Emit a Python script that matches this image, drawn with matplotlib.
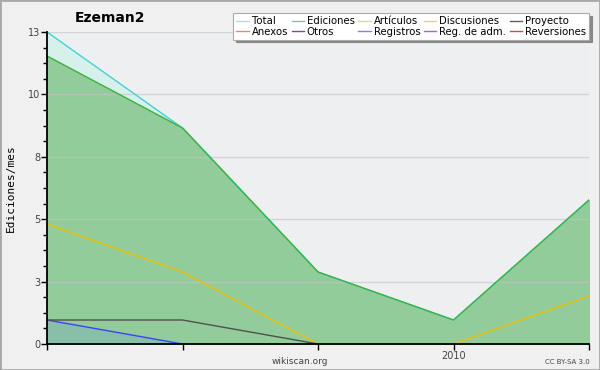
import numpy as np
import matplotlib.pyplot as plt
from matplotlib.lines import Line2D
from matplotlib.patches import Rectangle

# Dades (edicions per mes)
mesos = ['2009-10', '2009-11', '2009-12', '2010-01', '2010-02']
total = [13, 9, 3, 1, 6]
edicions = [12, 9, 3, 1, 6]
discusions = [5, 3, 0, 0, 2]
projecte = [1, 1, 0, np.nan, np.nan]
registres = [1, 0, np.nan, np.nan, np.nan]

etiquetes_y = ['0', '3', '5', '8', '10', '13']
posicions_y = [0, 2.6, 5.2, 7.8, 10.4, 13]

llegenda = [('Total', '#a8e4e0'), ('Anexos', '#f08a50'),
            ('Ediciones', '#80c890'), ('Otros', '#8040d0'),
            ('Artículos', '#c8ec70'), ('Registros', '#8080f0'),
            ('Discusiones', '#f4d060'), ('Reg. de adm.', '#c850e0'),
            ('Proyecto', '#606060'), ('Reversiones', '#e84040')]

fig = plt.figure(figsize=(6, 3.7), dpi=100, facecolor='#f0f0f0')
fig.patches.append(Rectangle((0, 0), 1, 1, transform=fig.transFigure,
                             fill=False, edgecolor='#a8a8a8', linewidth=2))
ax = fig.add_axes([47/600, 26/370, 542/600, 312/370])
ax.set_facecolor('#eeeff1')

x = np.arange(len(mesos))

# Àrees
ax.fill_between(x, 0, total, color='#d6f1ec', zorder=1)
ax.plot(x, total, color='#40d4d4', linewidth=1, zorder=4)
ax.fill_between(x, 0, edicions, color='#92cc9a', zorder=2)
ax.plot(x, edicions, color='#3cb43c', linewidth=1, zorder=5)
ax.fill_between(x[:2], 0, registres[:2], color='#88bfa8', zorder=3)
ax.plot(x, registres, color='#4040ff', linewidth=1, zorder=6)
ax.plot(x, discusions, color='#f0c000', linewidth=1, zorder=6)
ax.plot(x, projecte, color='#505050', linewidth=1, zorder=6)

ax.set_xlim(0, len(mesos) - 1)
ax.set_ylim(0, 13)

ax.set_yticks(posicions_y)
ax.set_yticklabels(etiquetes_y)
ax.set_yticks(np.arange(0, 13.01, 0.65), minor=True)
ax.set_xticks(x)
ax.set_xticklabels([m[:4] if m.endswith('-01') else '' for m in mesos])
ax.tick_params(axis='both', which='major', labelsize=7, labelcolor='#444444',
               length=4, width=1, pad=1)
ax.tick_params(axis='y', which='minor', length=3, width=1)
ax.grid(axis='y', color='#c4c4c4', alpha=0.6, linewidth=1, zorder=3.5)
ax.set_axisbelow(False)

for s in ['top', 'right']:
    ax.spines[s].set_visible(False)
for s in ['left', 'bottom']:
    ax.spines[s].set_linewidth(1.3)
    ax.spines[s].set_zorder(10)

fig.text(11/600, 1 - 188/370, 'Ediciones/mes', fontsize=8, family='DejaVu Sans Mono',
         rotation=90, ha='center', va='center')
fig.text(110/600, 1 - 18/370, 'Ezeman2', fontsize=10, fontweight='bold',
         ha='center', va='center')
fig.text(300/600, 1 - 361/370, 'wikiscan.org', fontsize=6.5, color='#444444',
         ha='center', va='center')
fig.text(590/600, 1 - 362/370, 'CC BY-SA 3.0', fontsize=5, color='#444444',
         ha='right', va='center')

handles = [Line2D([], [], color=c, linewidth=1) for _, c in llegenda]
noms = [n for n, _ in llegenda]
leg = fig.legend(handles, noms, ncol=5, loc='upper right',
                 bbox_to_anchor=(594/600, 1 - 8/370), fontsize=7.3,
                 frameon=True, fancybox=False,
                 shadow={'color': '#888888', 'alpha': 1, 'ox': 2, 'oy': -2},
                 handlelength=1.2, handletextpad=0.3, columnspacing=0.35,
                 labelspacing=0.05, borderpad=0.3, edgecolor='#aaaaaa')
leg.get_frame().set_linewidth(0.8)

fig.savefig('out.png', dpi=100, facecolor=fig.get_facecolor())
